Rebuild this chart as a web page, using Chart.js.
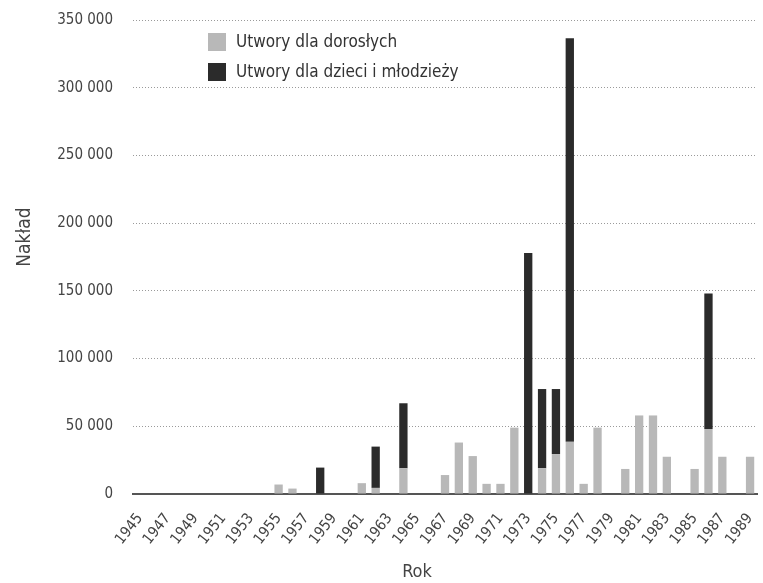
<!DOCTYPE html>
<html>
<head>
<meta charset="utf-8">
<script src="https://cdn.jsdelivr.net/npm/chart.js@4/dist/chart.umd.min.js"></script>
<style>
html,body{margin:0;padding:0;background:#fff;}
#wrap{width:763px;height:583px;position:relative;}
</style>
</head>
<body>
<div id="wrap"><canvas id="c" width="763" height="583"></canvas></div>
<script>
const years = [];
for (let y = 1945; y <= 1989; y++) years.push(String(y));

const adultValues = [
  0,0,0,0,0,0,0,0,0,0,      // 1945-1954
  7000,4000,0,0,0,0,8000,4500,0,19000, // 1955-1964
  0,0,14000,38000,28000,7500,7500,49000,0,19000, // 1965-1974
  29500,38500,7500,49000,0,18500,58000,58000,27500,0, // 1975-1984
  18500,48000,27500,0,27500 // 1985-1989
];
const youthValues = [
  0,0,0,0,0,0,0,0,0,0,
  0,0,0,19500,0,0,0,30500,0,48000,
  0,0,0,0,0,0,0,0,178000,58500,
  48000,298000,0,0,0,0,0,0,0,0,
  0,100000,0,0,0
];
const seriesLabels = ["Utwory dla dorosłych", "Utwory dla dzieci i młodzieży"];
const yTicks = [0,50000,100000,150000,200000,250000,300000,350000];
const xTitle = "Rok";
const yTitle = "Nakład";

const FONT = "'DejaVu Sans Condensed', 'Liberation Sans Narrow', 'Liberation Sans', sans-serif";

const legendPlugin = {
  id: 'insideLegend',
  afterDraw(chart) {
    const ctx = chart.ctx;
    const x0 = 208, ys = [42, 72];
    chart.data.datasets.forEach((ds, i) => {
      ctx.save();
      ctx.fillStyle = ds.backgroundColor;
      ctx.fillRect(x0, ys[i] - 9, 18, 18);
      ctx.fillStyle = '#333';
      ctx.font = "17px " + FONT;
      ctx.textBaseline = 'middle';
      ctx.fillText(ds.label, x0 + 28, ys[i] + 1);
      ctx.restore();
    });
    // axis titles
    ctx.save();
    ctx.fillStyle = '#444';
    ctx.textAlign = 'center';
    ctx.textBaseline = 'middle';
    ctx.font = "18px " + FONT;
    ctx.fillText(xTitle, 417, 572);
    ctx.translate(25, 237);
    ctx.rotate(-Math.PI / 2);
    ctx.font = "19px " + FONT;
    ctx.fillText(yTitle, 0, 0);
    ctx.restore();
  }
};

new Chart(document.getElementById('c'), {
  type: 'bar',
  data: {
    labels: years,
    datasets: [
      { label: seriesLabels[0], data: adultValues, backgroundColor: '#b8b8b8', barPercentage: 0.6, categoryPercentage: 1.0 },
      { label: seriesLabels[1], data: youthValues, backgroundColor: '#2b2b2b', barPercentage: 0.6, categoryPercentage: 1.0 }
    ]
  },
  options: {
    responsive: false,
    animation: false,
    layout: { padding: { top: 20, right: 6, left: 10, bottom: 4 } },
    plugins: { legend: { display: false }, tooltip: { enabled: false } },
    scales: {
      x: {
        stacked: true,
        grid: { display: false },
        border: { display: true, color: '#555', width: 2 },
        afterFit: (s) => { s.paddingLeft = 0; s.paddingRight = 0; s.height = 85; },
        ticks: {
          autoSkip: false, maxRotation: 52, minRotation: 52, padding: 8,
          color: '#444', font: { family: FONT, size: 15 },
          callback: function(v, i) { return i % 2 === 0 ? this.getLabelForValue(v) : ''; }
        },
        title: { display: false }
      },
      y: {
        stacked: true,
        min: 0, max: 350000,
        afterBuildTicks: (axis) => { axis.ticks = yTicks.map(v => ({ value: v })); },
        afterFit: (s) => { s.paddingTop = 0; s.paddingBottom = 0; s.width = 123; },
        grid: { color: '#9a9a9a', lineWidth: 1, drawTicks: false },
        border: { display: false, dash: [1, 2] },
        ticks: {
          color: '#444', padding: 20, font: { family: FONT, size: 15 },
          callback: (v) => v === 0 ? '0' : String(v).replace(/\B(?=(\d{3})+(?!\d))/g, ' ')
        },
        title: { display: false }
      }
    }
  },
  plugins: [legendPlugin]
});
</script>
</body>
</html>
